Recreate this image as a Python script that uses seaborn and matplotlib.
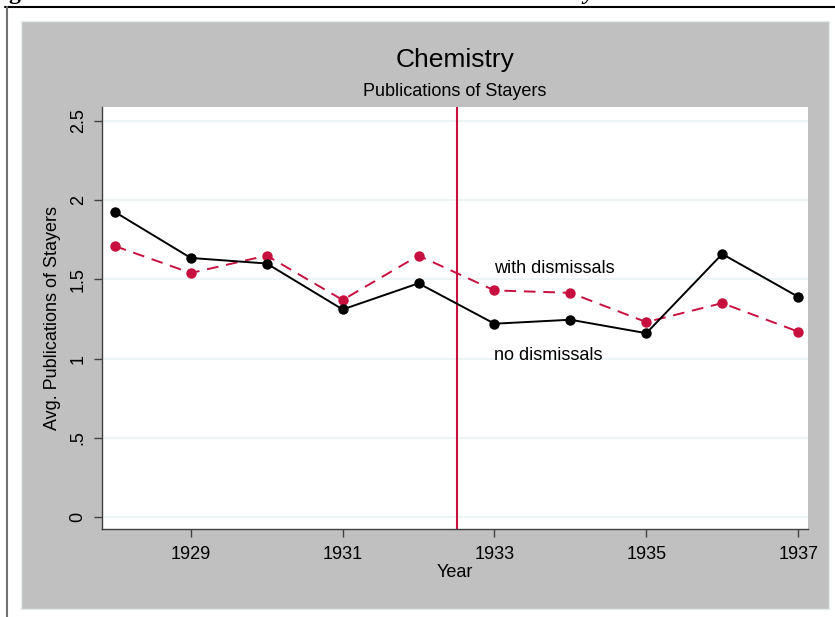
import matplotlib.pyplot as plt
import matplotlib.patches as mpatches
import pandas as pd
import seaborn as sns

years = [1928, 1929, 1930, 1931, 1932, 1933, 1934, 1935, 1936, 1937]
no_dismissals = [1.925, 1.635, 1.60, 1.31, 1.475, 1.22, 1.245, 1.16, 1.66, 1.39]
with_dismissals = [1.71, 1.54, 1.65, 1.37, 1.65, 1.43, 1.415, 1.23, 1.35, 1.17]
xtick_years = [1929, 1931, 1933, 1935, 1937]
ytick_vals = [0, 0.5, 1, 1.5, 2, 2.5]
ytick_labels = ['0', '.5', '1', '1.5', '2', '2.5']
cutoff_year = 1932.5

red = '#c8103e'
gray_bg = '#c0c0c0'

df = pd.DataFrame({'Year': years, 'no': no_dismissals, 'with': with_dismissals})

sns.set_style('white')
plt.rcParams['font.family'] = ['Liberation Sans', 'DejaVu Sans']
plt.rcParams['text.color'] = 'black'
plt.rcParams['axes.labelcolor'] = 'black'
plt.rcParams['xtick.color'] = 'black'
plt.rcParams['ytick.color'] = 'black'

fig = plt.figure(figsize=(8.35, 6.17), dpi=100)
fig.patch.set_facecolor('white')

# outer frame bits and gray graph region
fig.add_artist(plt.Line2D([5 / 835, 1], [1 - 7 / 617] * 2, color='black', lw=1.5))
fig.add_artist(plt.Line2D([7 / 835] * 2, [0, 1 - 7 / 617], color='#707070', lw=1.5))
fig.add_artist(mpatches.Rectangle((21 / 835, 1 - 609 / 617), (829 - 21) / 835, (609 - 21) / 617,
                                  transform=fig.transFigure, facecolor=gray_bg,
                                  edgecolor='#e4ecee', lw=1, zorder=0))

# cut-off heading descenders at the very top
fig.text(8 / 835, 1 + 1 / 617, 'g', fontsize=17, fontweight='bold', family='Liberation Serif',
         va='baseline', ha='left')
fig.text(583 / 835, 1 + 1 / 617, 'y', fontsize=17, fontweight='bold', fontstyle='italic',
         family='Liberation Serif', va='baseline', ha='left')

ax = fig.add_axes([102 / 835, 1 - 529 / 617, (808 - 102) / 835, (529 - 107) / 617])
ax.set_facecolor('white')

for y in ytick_vals:
    ax.axhline(y, color='#eaf2f3', lw=1.2, zorder=0)

sns.lineplot(data=df, x='Year', y='with', ax=ax, color=red, lw=1.4, marker='o',
             markersize=7.5, markeredgewidth=0, linestyle=(0, (6, 4)), zorder=3)
sns.lineplot(data=df, x='Year', y='no', ax=ax, color='black', lw=1.4, marker='o',
             markersize=7.5, markeredgewidth=0, zorder=4)
ax.axvline(cutoff_year, color=red, lw=1.5, zorder=2)

ax.text(1933, 1.57, 'with dismissals', fontsize=13, ha='left', va='center')
ax.text(1933, 1.02, 'no dismissals', fontsize=13, ha='left', va='center')

ax.set_xlim(1927.83, 1937.13)
ax.set_ylim(-0.076, 2.588)
ax.set_xticks(xtick_years)
ax.set_xticklabels([str(y) for y in xtick_years], fontsize=13)
ax.set_yticks(ytick_vals)
ax.set_yticklabels(ytick_labels, fontsize=13, rotation=90, va='center')
ax.tick_params(axis='both', direction='out', length=6, width=1, color='#404040',
               bottom=True, left=True)
ax.tick_params(axis='x', pad=6)
ax.tick_params(axis='y', pad=5)

for s in ['top', 'right']:
    ax.spines[s].set_visible(False)
for s in ['left', 'bottom']:
    ax.spines[s].set_color('#404040')
    ax.spines[s].set_linewidth(1)

ax.set_xlabel('Year', fontsize=13, labelpad=1)
ax.set_ylabel('Avg. Publications of Stayers', fontsize=13, labelpad=6)

fig.text(455 / 835, 1 - 60 / 617, 'Chemistry', fontsize=19, ha='center', va='center')
fig.text(455 / 835, 1 - 92 / 617, 'Publications of Stayers', fontsize=13, ha='center', va='center')

fig.savefig('out.png', dpi=100)
